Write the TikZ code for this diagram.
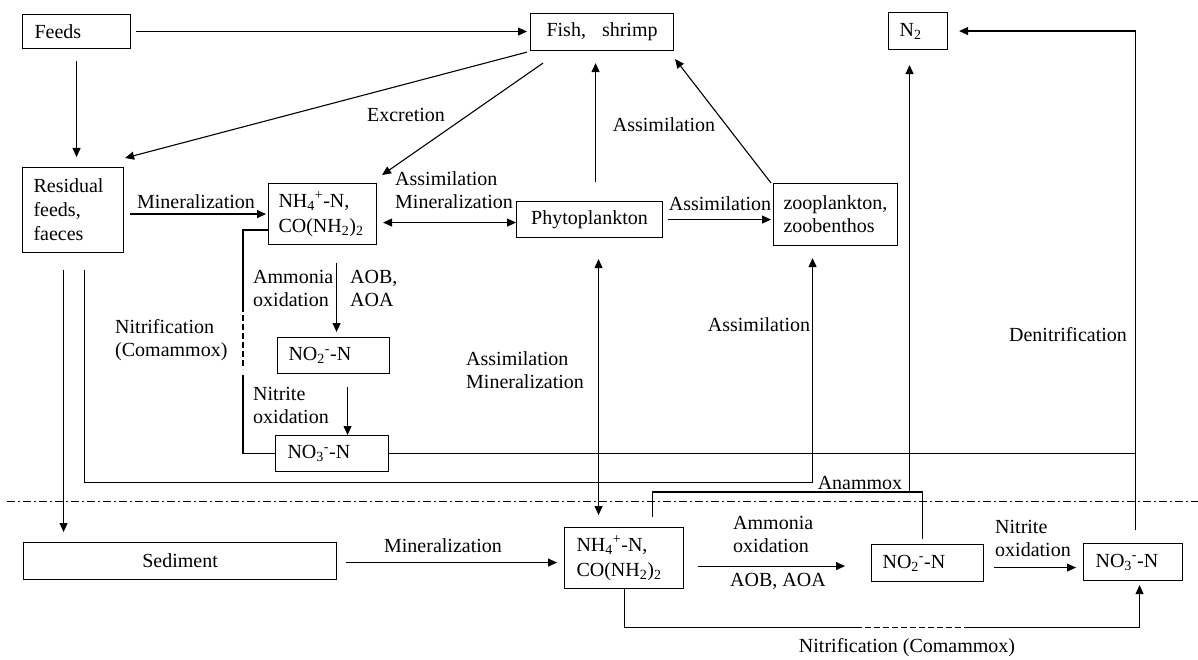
\documentclass[tikz,border=0pt]{standalone}
\usepackage{fontspec}
\setmainfont{Liberation Serif}
\usetikzlibrary{arrows.meta}
\begin{document}
\begin{tikzpicture}[x=1pt,y=-1pt,
  every node/.style={font=\fontsize{20}{23}\selectfont},
  box/.style={draw, line width=1.1pt, inner sep=0pt, anchor=north west},
  lbox/.style={box, align=left},
  lbl/.style={inner sep=0pt},
  con/.style={line width=1.1pt},
  arr/.style={con, -{Triangle[length=9pt,width=8pt]}},
  darr/.style={con, {Triangle[length=9pt,width=8pt]}-{Triangle[length=9pt,width=8pt]}},
  dsh/.style={con, dash pattern=on 6pt off 3pt},
  dashdot/.style={line width=1pt, dash pattern=on 8pt off 3pt on 2pt off 3pt}
]
\useasboundingbox (0,0) rectangle (1198,660);

% ---------- boxes ----------
\node[lbox, inner xsep=12pt, minimum width=108pt, minimum height=34pt, text width=84pt] (feeds) at (22,14) {Feeds};
\node[box, minimum width=143pt, minimum height=37pt] (fish) at (530,13) {Fish,\hspace{16pt}shrimp};
\node[lbox, inner xsep=11pt, minimum width=59pt, minimum height=37pt, text width=37pt] (n2) at (888,12) {N\textsubscript{2}};
\node[lbox, inner xsep=11pt, minimum width=101pt, minimum height=85pt, text width=79pt] (resid) at (22,167) {Residual\\[1pt]feeds,\\[1pt]faeces};
\node[lbox, inner xsep=10pt, minimum width=108pt, minimum height=61pt, text width=88pt] (nh4u) at (268,183) {NH\textsubscript{4}\textsuperscript{+}-N,\\[2pt]CO(NH\textsubscript{2})\textsubscript{2}};
\node[box, minimum width=146pt, minimum height=36pt] (phyto) at (516,201) {Phytoplankton};
\node[lbox, inner xsep=10pt, minimum width=124pt, minimum height=62pt, text width=104pt] (zoo) at (773,183) {zooplankton,\\zoobenthos};
\node[lbox, inner xsep=11pt, minimum width=112pt, minimum height=36pt, text width=90pt] (no2u) at (277,337) {NO\textsubscript{2}\textsuperscript{-}-N};
\node[lbox, inner xsep=12pt, minimum width=113pt, minimum height=36pt, text width=89pt] (no3u) at (275,435) {NO\textsubscript{3}\textsuperscript{-}-N};
\node[box, minimum width=313pt, minimum height=37pt] (sed) at (23,542) {Sediment};
\node[lbox, inner xsep=12pt, minimum width=119pt, minimum height=61pt, text width=95pt] (nh4l) at (564,527) {NH\textsubscript{4}\textsuperscript{+}-N,\\[2pt]CO(NH\textsubscript{2})\textsubscript{2}};
\node[lbox, inner xsep=11pt, minimum width=112pt, minimum height=37pt, text width=90pt] (no2l) at (871,544) {NO\textsubscript{2}\textsuperscript{-}-N};
\node[lbox, inner xsep=12pt, minimum width=99pt, minimum height=37pt, text width=75pt] (no3l) at (1083,543) {NO\textsubscript{3}\textsuperscript{-}-N};

% ---------- labels ----------
\node[lbl] (lexc) at (406,115) {Excretion};
\node[lbl] (lmin1) at (196,202) {Mineralization};
\node[lbl, align=left, anchor=west] (lam1) at (395,190) {Assimilation\\Mineralization};
\node[lbl] (las1) at (664,125) {Assimilation};
\node[lbl] (las2) at (720,204) {Assimilation};
\node[lbl, align=left, anchor=west] (lao1) at (253,288) {Ammonia\\oxidation};
\node[lbl, align=left, anchor=west] (laob1) at (350,288) {AOB,\\AOA};
\node[lbl, align=left, anchor=west] (lno1) at (253,405) {Nitrite\\oxidation};
\node[lbl, align=left, anchor=west] (lnit1) at (115,340) {Nitrification\\(Comammox)};
\node[lbl, align=left, anchor=west] (lam2) at (466,370) {Assimilation\\Mineralization};
\node[lbl] (las3) at (759,325) {Assimilation};
\node[lbl] (lden) at (1068,335) {Denitrification};
\node[lbl] (lana) at (860,483) {Anammox};
\node[lbl] (lmin2) at (443,546) {Mineralization};
\node[lbl, align=left, anchor=west] (lao2) at (733,534) {Ammonia\\oxidation};
\node[lbl, anchor=west] (laob2) at (730,581) {AOB, AOA};
\node[lbl, align=left, anchor=west] (lno2) at (995,538) {Nitrite\\oxidation};
\node[lbl] (lnit2) at (907,648) {Nitrification (Comammox)};

% ---------- helper coordinates ----------
\coordinate (pf1) at ([shift={(6,-19)}]phyto.north);
\coordinate (np) at ([shift={(0,3)}]phyto.west);
\coordinate (a1) at ([shift={(14,18)}]nh4u.south);
\coordinate (a2) at ([shift={(14,13)}]no2u.south);
\coordinate (b1) at ([shift={(0,16)}]nh4u.west);
\coordinate (r1) at ([shift={(-9.5,17)}]resid.south);
\coordinate (r2) at ([shift={(11.5,17)}]resid.south);
\coordinate (zc) at ([shift={(-23,236)}]zoo.south);
\coordinate (d1) at ([shift={(2.5,-13)}]no3l.north);
\coordinate (an1) at ([shift={(28.5,-10)}]nh4l.north);
\coordinate (anr) at ([shift={(-5,-52)}]no2l.north);
\coordinate (an3) at ([shift={(-13,0)}]anr);
\coordinate (sm) at ([shift={(0,4.5)}]nh4l.west);
\coordinate (am) at ([shift={(0,3)}]no2l.west);
\coordinate (nm) at ([shift={(0,4.5)}]no2l.east);
\coordinate (c1) at ([shift={(0.5,0)}]nh4l.south);
\coordinate (c2) at ([shift={(0,38)}]c1);
\coordinate (c3) at ([shift={(231,38)}]c1);
\coordinate (c4) at ([shift={(341,38)}]c1);
\coordinate (c5) at ([shift={(6.5,46)}]no3l.south);
\coordinate (v1) at ([shift={(9,21)}]phyto.south);
\coordinate (dl1) at (7,501);
\coordinate (dl2) at (1198,501);

% ---------- connectors (upper) ----------
\draw[arr, shorten <=5pt, shorten >=3pt] (feeds.east) -- (feeds.east -| fish.west);
\draw[arr, shorten <=12pt, shorten >=10pt] (feeds.south) -- (feeds.south |- resid.north);
\draw[arr] ([shift={(-3,1)}]fish.south west) -- ([shift={(1,-9)}]resid.north east);
\draw[arr] ([shift={(13,12)}]fish.south west) -- ([shift={(5,-8)}]nh4u.north east);
\draw[arr, shorten >=12pt] (pf1) -- (pf1 |- fish.south);
\draw[arr] ([shift={(-2,0)}]zoo.north west) -- ([shift={(1,8)}]fish.south east);
\draw[arr, shorten <=5pt, shorten >=2pt] (phyto.east) -- (phyto.east -| zoo.west);
\draw[darr, shorten <=6pt] (np -| nh4u.east) -- (np);
\draw[arr, shorten <=6pt, shorten >=2pt] (nh4u.west -| resid.east) -- (nh4u.west);
\draw[arr, shorten >=5pt] (a1) -- (a1 |- no2u.north);
\draw[arr] (a2) -- (a2 |- no3u.north);
% nitrification bracket (upper)
\draw[con] (b1) -- ++(-25,0) -- ++(0,76);
\draw[dsh] ([shift={(-25,76)}]b1) -- ++(0,63);
\draw[con] ([shift={(-25,145)}]b1) |- (no3u.west);
% residual feeds lines
\draw[arr, shorten >=10pt] (r1) -- (r1 |- sed.north);
\draw[arr, shorten >=12pt] (r2) |- (zc) -- (zc |- zoo.south);
% NO3 upper to denitrification line
\draw[con] (no3u.east) -- (no3u.east -| d1);
% denitrification
\draw[arr, shorten >=11pt] (d1) |- (n2.east);
% anammox
\draw[con, shorten >=5pt] (an1) |- (anr) -- (anr |- no2l.north);
\draw[arr, shorten >=15pt] (an3) -- (an3 |- n2.south);
% vertical double arrow
\draw[darr, shorten >=12pt] (v1) -- (v1 |- nh4l.north);

% ---------- sediment / lower ----------
\draw[dashdot] (dl1) -- (dl2);
\draw[arr, shorten <=9pt, shorten >=7pt] (sm -| sed.east) -- (sm);
\draw[arr, shorten <=14pt, shorten >=26pt] (am -| nh4l.east) -- (am);
\draw[arr, shorten <=10pt, shorten >=7pt] (nm) -- (nm -| no3l.west);
\draw[con] (c1) -- (c2) -- (c3);
\draw[dsh] (c3) -- (c4);
\draw[arr, shorten >=4pt] (c4) -- (c5) -- (c5 |- no3l.south);
\end{tikzpicture}
\end{document}
